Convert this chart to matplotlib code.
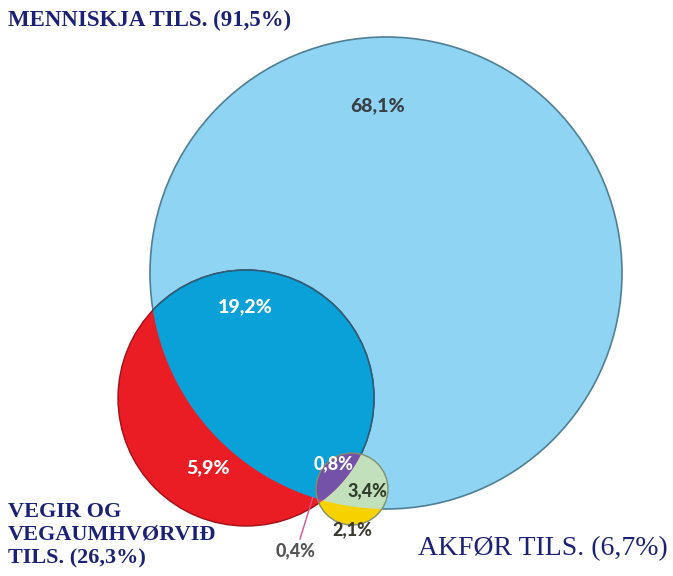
import numpy as np
import matplotlib.pyplot as plt
from matplotlib.patches import Circle, Polygon

# Hlutfall (%) fyri hvørt øki
set_navn = ['MENNISKJA TILS. (91,5%)', 'VEGIR OG\nVEGAUMHVØRVIÐ\nTILS. (26,3%)', 'AKFØR TILS. (6,7%)']
oki_labels = ['68,1%', '19,2%', '5,9%', '0,8%', '3,4%', '2,1%', '0,4%']
oki_virdi = [68.1, 19.2, 5.9, 0.8, 3.4, 2.1, 0.4]

# Geometry of the three circles (pixel coordinates)
stor = (386, 273, 236)
raud = (246, 398, 128)
litil = (352, 489, 36)


def lens(c1, c2, n=720):
    # polygon of the intersection of two circles
    t = np.linspace(0, 2 * np.pi, n)
    p1 = np.c_[c1[0] + c1[2] * np.cos(t), c1[1] + c1[2] * np.sin(t)]
    p2 = np.c_[c2[0] + c2[2] * np.cos(t), c2[1] + c2[2] * np.sin(t)]
    p1 = p1[np.hypot(p1[:, 0] - c2[0], p1[:, 1] - c2[1]) <= c2[2]]
    p2 = p2[np.hypot(p2[:, 0] - c1[0], p2[:, 1] - c1[1]) <= c1[2]]
    pts = np.vstack([p1, p2])
    cx, cy = pts.mean(axis=0)
    ang = np.arctan2(pts[:, 1] - cy, pts[:, 0] - cx)
    return pts[np.argsort(ang)]


fig = plt.figure(figsize=(6.73, 5.76), dpi=100)
ax = fig.add_axes([0, 0, 1, 1])
ax.set_xlim(0, 673)
ax.set_ylim(576, 0)
ax.set_aspect('equal')
ax.axis('off')

# stóri ringurin
big = Circle(stor[:2], stor[2], facecolor='#8fd4f3', edgecolor='#4f7f94', lw=1.2, zorder=1)
ax.add_patch(big)

# reyði ringurin
ax.add_patch(Circle(raud[:2], raud[2], facecolor='#ea1c24', edgecolor='#a01018', lw=1.0, zorder=2))
yvirlap = Circle(raud[:2], raud[2], facecolor='#0aa0d8', edgecolor='#2a5f7a', lw=1.2, zorder=3)
ax.add_patch(yvirlap)
yvirlap.set_clip_path(big)

# lítli ringurin
ax.add_patch(Circle(litil[:2], litil[2], facecolor='#f8d200', edgecolor='none', zorder=4))
gron = Circle(litil[:2], litil[2], facecolor='#c2e0bc', edgecolor='none', zorder=5)
ax.add_patch(gron)
gron.set_clip_path(big)
rosa = Polygon(lens(litil, raud), closed=True, facecolor='#e0407a', edgecolor='none', zorder=6)
ax.add_patch(rosa)
lilla = Polygon(lens(litil, raud), closed=True, facecolor='#7452a8', edgecolor='none', zorder=7)
ax.add_patch(lilla)
lilla.set_clip_path(big)
ax.add_patch(Circle(litil[:2], litil[2], facecolor='none', edgecolor='#7f8f70', lw=1.0, zorder=8))

# tøl
sans = ['Lato', 'DejaVu Sans']
pos = [(378, 106), (245, 307), (208, 468), (334, 464), (367, 491), (352, 530), (296, 551)]
farvur = ['#3a3f44', 'white', 'white', 'white', '#2f3d2a', '#3a3a30', '#555555']
storleikar = [14, 14, 14, 13, 13, 13, 13]
for lab, (x, y), c, s in zip(oki_labels, pos, farvur, storleikar):
    ax.text(x, y, lab, ha='center', va='center', fontsize=s, fontweight='black',
            color=c, family=sans, zorder=10)

# strikur til 0,4%
ax.plot([300, 313], [539, 497], color='#e0508a', lw=1.0, zorder=9)

# heiti
navy = '#1b2275'
ax.text(8, 20, set_navn[0], ha='left', va='center', fontsize=16.5, fontweight='bold',
        color=navy, family='Liberation Serif')
ax.text(8, 535, set_navn[1], ha='left', va='center', fontsize=16, fontweight='bold',
        color=navy, family='Liberation Serif', linespacing=1.22)
ax.text(668, 549, set_navn[2], ha='right', va='center', fontsize=20,
        color=navy, family='Liberation Serif')

fig.savefig('out.png', dpi=100)
